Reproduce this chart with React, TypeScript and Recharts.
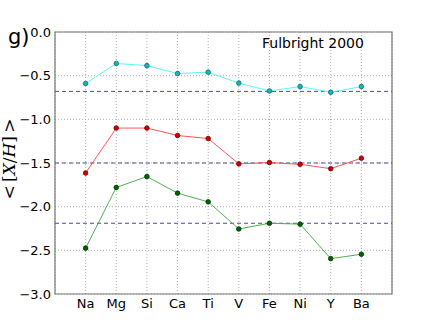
import React from 'react';
import { LineChart, Line, XAxis, YAxis, CartesianGrid, ReferenceLine, ReferenceArea } from 'recharts';

const elements = ['Na', 'Mg', 'Si', 'Ca', 'Ti', 'V', 'Fe', 'Ni', 'Y', 'Ba'];
const cyanVals = [-0.59, -0.36, -0.385, -0.475, -0.46, -0.585, -0.675, -0.625, -0.69, -0.625];
const redVals = [-1.615, -1.1, -1.1, -1.185, -1.22, -1.51, -1.495, -1.515, -1.565, -1.445];
const greenVals = [-2.475, -1.78, -1.655, -1.845, -1.945, -2.255, -2.19, -2.2, -2.595, -2.545];
const refLevels = [-0.68, -1.5, -2.19];
const yTicks = [-3, -2.5, -2, -1.5, -1, -0.5, 0];
const xTicks = [0, 1, 2, 3, 4, 5, 6, 7, 8, 9];

const data = elements.map((name, i) => ({
  idx: i,
  name,
  cyan: cyanVals[i],
  red: redVals[i],
  green: greenVals[i],
}));

const font = '"DejaVu Sans", sans-serif';
const serif = '"DejaVu Serif", serif';
const fmtY = (v: number) => v.toFixed(1).replace('-', '\u2212');

const dot = (fill: string, stroke: string) => ({ r: 2.3, fill, stroke, strokeWidth: 0.8 });

export default function App() {
  return (
    <div style={{ position: 'absolute', left: 0, top: 0, width: 436, height: 327, background: '#fff', fontFamily: font }}>
      <LineChart width={436} height={327} data={data} margin={{ top: 32, right: 44, left: 0, bottom: 0 }}>
        <CartesianGrid stroke="#b0b0b0" strokeDasharray="1 2" />
        <XAxis
          type="number"
          dataKey="idx"
          domain={[-1, 10]}
          ticks={xTicks}
          tickFormatter={(i: number) => elements[i]}
          interval={0}
          height={33}
          tickLine={false}
          axisLine={false}
          tickSize={0}
          tickMargin={5}
          tick={{ fill: '#000', fontSize: 13, fontFamily: font }}
        />
        <YAxis
          type="number"
          domain={[-3, 0]}
          ticks={yTicks}
          tickFormatter={fmtY}
          width={55}
          tickLine={false}
          axisLine={false}
          tickSize={0}
          tickMargin={4}
          tick={{ fill: '#000', fontSize: 13, fontFamily: font }}
        />
        <ReferenceArea x1={-1} x2={10} y1={-3} y2={0} fill="none" stroke="#777" strokeWidth={1.2} />
        {refLevels.map((v) => (
          <ReferenceLine key={v} y={v} stroke="#4a4a9a" strokeDasharray="4 3" strokeWidth={1} />
        ))}
        <Line dataKey="cyan" stroke="#5ff5f5" strokeWidth={1} dot={dot('#10b8b8', '#0a6e6e')} isAnimationActive={false} />
        <Line dataKey="red" stroke="#ff5555" strokeWidth={1} dot={dot('#cc0000', '#700000')} isAnimationActive={false} />
        <Line dataKey="green" stroke="#55b055" strokeWidth={1} dot={dot('#006400', '#003000')} isAnimationActive={false} />
      </LineChart>
      <div style={{ position: 'absolute', left: 8, top: 25, fontSize: 21, lineHeight: '24px', color: '#000' }}>g)</div>
      <div style={{ position: 'absolute', left: 262, top: 35, fontSize: 14, lineHeight: '17px', color: '#000' }}>Fulbright 2000</div>
      <div
        style={{
          position: 'absolute',
          left: 9,
          top: 159,
          transform: 'translate(-50%, -50%) rotate(-90deg)',
          whiteSpace: 'nowrap',
          fontSize: 17,
          lineHeight: '20px',
          color: '#000',
          fontFamily: serif,
        }}
      >
        &lt;&thinsp;[<span style={{ fontStyle: 'italic' }}>X</span>/<span style={{ fontStyle: 'italic' }}>H</span>]&thinsp;&gt;
      </div>
    </div>
  );
}
